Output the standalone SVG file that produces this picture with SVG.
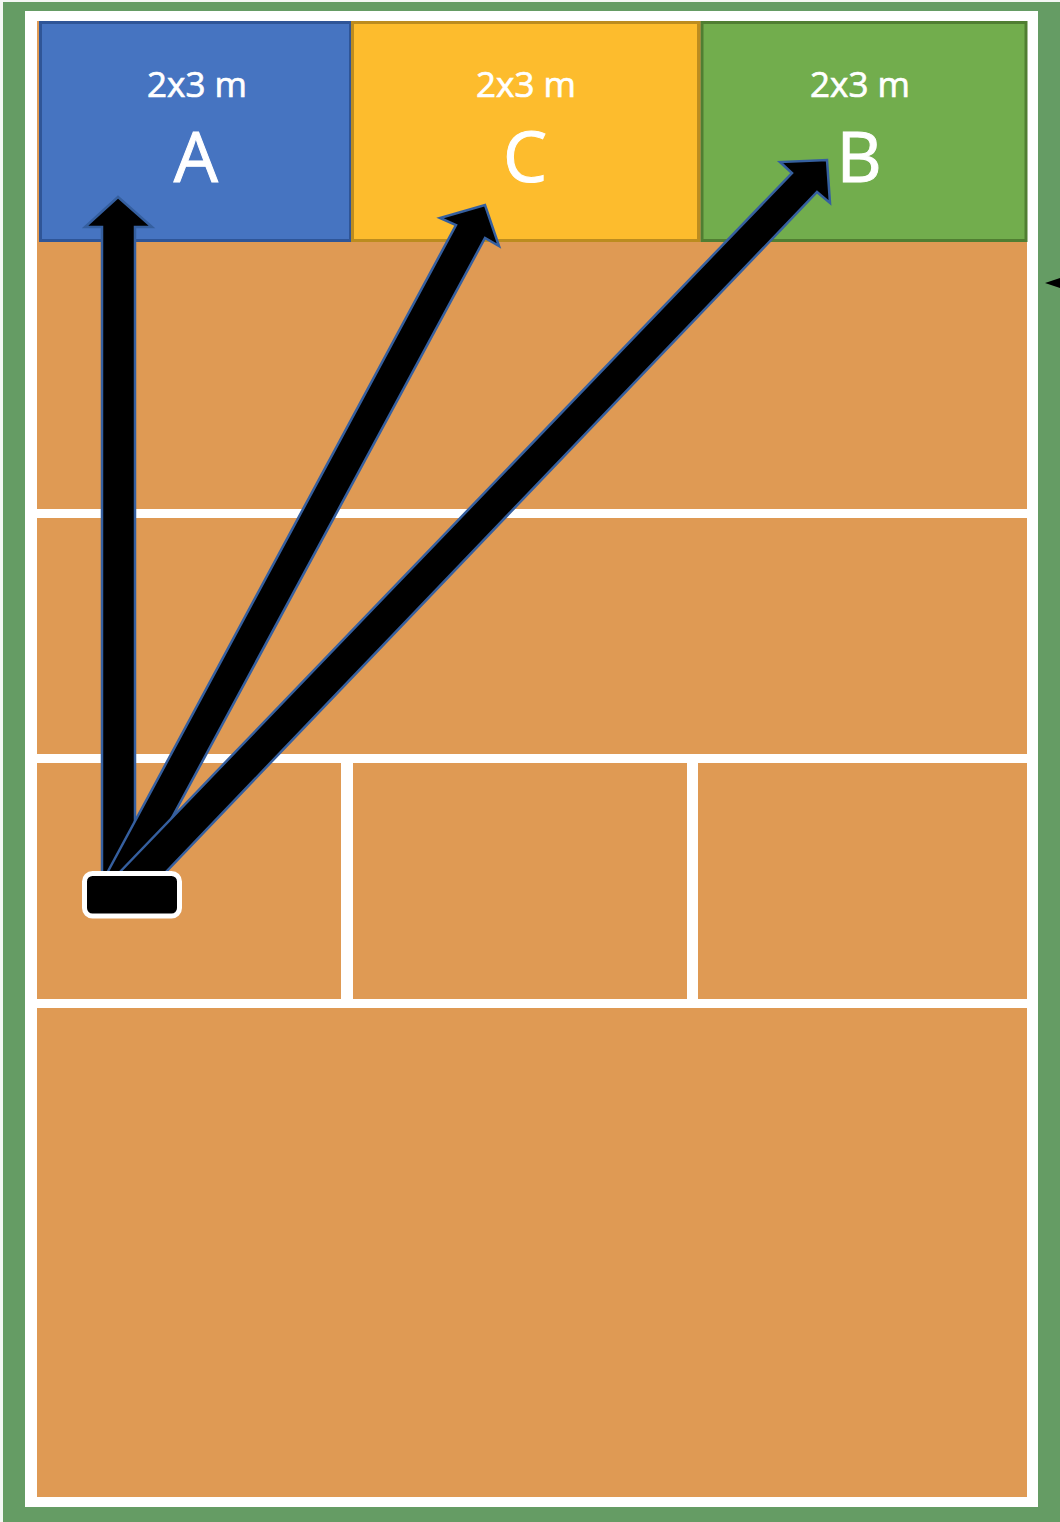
<svg xmlns="http://www.w3.org/2000/svg" width="1060" height="1522" viewBox="0 0 1060 1522">
<style>
.zone{stroke-width:3}
.lbl{font-family:"Open Sans","Noto Sans",sans-serif;fill:#fff;stroke:#fff;text-anchor:middle}
.sm{font-size:35px;stroke-width:.7px}
.lg{font-size:70px;stroke-width:1px}
.arrow{fill:#000;stroke:#355f9f;stroke-width:2.500;stroke-linejoin:miter}
.line{fill:#fff}
</style>
<rect width="1060" height="1522" fill="#f4f7f4"/>
<g id="court">
<rect x="3" y="2" width="1057" height="1520" fill="#659c64"/>
<rect x="25" y="11" width="1013" height="1496" fill="#fff"/>
<rect x="37" y="21" width="990" height="1476" fill="#df9a54"/>
<rect class="line" x="37" y="509" width="990" height="9"/>
<rect class="line" x="37" y="754" width="990" height="9"/>
<rect class="line" x="37" y="999" width="990" height="9"/>
<rect class="line" x="341" y="760" width="12" height="241"/>
<rect class="line" x="687" y="760" width="11" height="241"/>
</g>
<g id="zone-a">
<rect class="zone" x="40.500" y="22.500" width="310" height="218" fill="#4674c1" stroke="#2f5597"/>
<text class="lbl sm" x="197" y="97">2x3 m</text>
<text class="lbl lg" x="196" y="182">A</text>
</g>
<g id="zone-c">
<rect class="zone" x="352.500" y="22.500" width="346" height="218" fill="#fdbc2d" stroke="#bc8c1f"/>
<text class="lbl sm" x="526" y="97">2x3 m</text>
<text class="lbl lg" x="525" y="182">C</text>
</g>
<g id="zone-b">
<rect class="zone" x="702" y="22.500" width="324" height="218" fill="#72ad4d" stroke="#507e32"/>
<text class="lbl sm" x="860" y="97">2x3 m</text>
<text class="lbl lg" x="859" y="182">B</text>
</g>
<g id="connectors">
<polygon class="arrow" points="102,875 102,227 85,227 118,197 152,227 135,227 135,875"/>
<polygon class="arrow" points="106,875 456,225 440,218 485,205 499,246 485,238 141,875"/>
<polygon class="arrow" points="117,875 792,173 780,162 827,160 830,203 817,192 163,875"/>
<polygon points="1045,283 1060,278 1060,288" fill="#000"/>
</g>
<g id="start">
<rect x="84.500" y="873.500" width="95" height="42.500" rx="8" fill="#000" stroke="#fff" stroke-width="5"/>
</g>
</svg>
